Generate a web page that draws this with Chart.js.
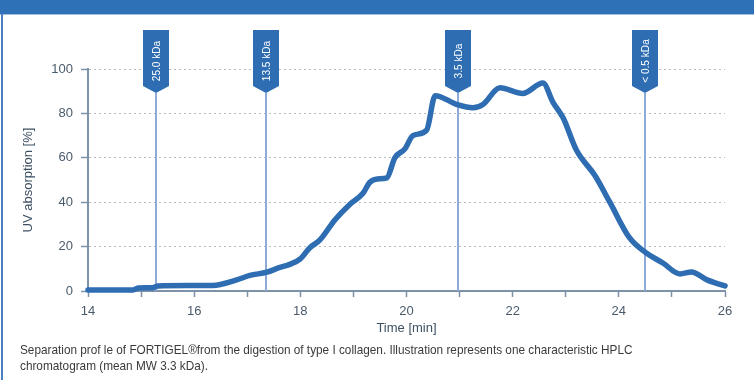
<!DOCTYPE html>
<html>
<head>
<meta charset="utf-8">
<script src="https://cdn.jsdelivr.net/npm/chart.js@4.4.0/dist/chart.umd.min.js"></script>
<style>
  html, body { margin:0; padding:0; background:#fff; }
  #wrap { position:relative; width:754px; height:380px; overflow:hidden; background:#fff; }
  #hdr { position:absolute; left:0; top:0; width:754px; height:14px; background:#2f71b6; border-bottom:1px solid #9fc0e4; }
  #lb { position:absolute; left:1px; top:14px; width:2px; height:366px; background:#4a80c2; }
  canvas { position:absolute; left:0; top:0; }
  #cap { position:absolute; left:20px; top:342px; font-family:"Liberation Sans",Arial,sans-serif; font-size:13.5px; line-height:16px; color:#3a3a3a; white-space:nowrap; transform:scaleX(0.873); transform-origin:0 0; }
</style>
</head>
<body>
<div id="wrap">
  <canvas id="c" width="754" height="380"></canvas>
  <div id="hdr"></div>
  <div id="lb"></div>
  <div id="cap">Separation prof le of FORTIGEL®from the digestion of type I collagen. Illustration represents one characteristic HPLC<br>chromatogram (mean MW 3.3 kDa).</div>
</div>
<script>
// ---- data ----
const times = [14, 14.85, 14.95, 15.22, 15.32, 16.35, 16.8, 17.05, 17.37, 17.6, 17.8, 18.0, 18.18, 18.37, 18.65, 18.93, 19.18, 19.31, 19.45, 19.63, 19.78, 19.97, 20.12, 20.38, 20.54, 20.95, 21.25, 21.44, 21.76, 22.19, 22.57, 22.76, 22.95, 23.2, 23.55, 23.83, 24.2, 24.49, 24.83, 25.15, 25.37, 25.66, 26];
const uvValues = [0.5, 0.5, 1.4, 1.5, 2.3, 2.5, 5, 7, 8.5, 10.5, 12, 14.5, 19.5, 23, 32, 39, 44, 49, 50.5, 51, 60, 64, 70, 72.5, 88, 84, 82.5, 84, 91.5, 89, 93.7, 85, 78, 63.5, 52, 40, 24, 17.6, 12.6, 7.7, 8.6, 5, 2.3];
const markerTimes = [15.28, 17.35, 20.97, 24.49];
const markerLabels = ["25.0 kDa", "13.5 kDa", "3.5 kDa", "< 0.5 kDa"];
const xTicks = [14, 16, 18, 20, 22, 24, 26];
const yTicks = [0, 20, 40, 60, 80, 100];

const axisColor = '#7d92a8';
const tickFontColor = '#4a5b6c';

const markerPlugin = {
  id: 'markers',
  beforeDatasetsDraw(chart) {
    const {ctx, scales:{x, y}} = chart;
    ctx.save();
    markerTimes.forEach((t, i) => {
      const px = Math.round(x.getPixelForValue(t));
      const topY = 30, rectBot = 86, tip = 93, hw = 13;
      ctx.strokeStyle = '#8eaad8';
      ctx.lineWidth = 2;
      ctx.beginPath();
      ctx.moveTo(px, tip);
      ctx.lineTo(px, y.getPixelForValue(0));
      ctx.stroke();
      ctx.fillStyle = '#2f6db3';
      ctx.beginPath();
      ctx.moveTo(px - hw, topY);
      ctx.lineTo(px + hw, topY);
      ctx.lineTo(px + hw, rectBot);
      ctx.lineTo(px, tip);
      ctx.lineTo(px - hw, rectBot);
      ctx.closePath();
      ctx.fill();
      ctx.save();
      ctx.translate(px + 1, (topY + rectBot) / 2 + 3);
      ctx.rotate(-Math.PI / 2);
      ctx.scale(0.88, 1);
      ctx.fillStyle = '#ffffff';
      ctx.font = '11.5px "Liberation Sans", Arial, sans-serif';
      ctx.textAlign = 'center';
      ctx.textBaseline = 'middle';
      ctx.fillText(markerLabels[i], 0, 0);
      ctx.restore();
    });
    ctx.restore();
  }
};

new Chart(document.getElementById('c'), {
  type: 'line',
  data: {
    datasets: [{
      data: times.map((t, i) => ({x: t, y: uvValues[i]})),
      borderColor: '#2f6db3',
      borderWidth: 5.5,
      pointRadius: 0,
      tension: 0.4,
      cubicInterpolationMode: 'monotone',
      fill: false,
      clip: false,
      borderCapStyle: 'round',
      borderJoinStyle: 'round'
    }]
  },
  options: {
    responsive: false,
    animation: false,
    events: [],
    layout: { padding: { left: 14, right: 29, top: 69, bottom: 44 } },
    plugins: { legend: { display: false }, tooltip: { enabled: false } },
    scales: {
      x: {
        type: 'linear',
        min: 14, max: 26,
        afterBuildTicks: (s) => { s.ticks = []; for (let v = 14; v <= 26; v++) s.ticks.push({value: v}); },
        afterFit: (s) => { s.height = 45; },
        ticks: {
          autoSkip: false,
          maxRotation: 0,
          padding: 7,
          color: tickFontColor,
          font: { family: 'Arial, "Liberation Sans", sans-serif', size: 13 },
          callback: (v) => xTicks.includes(v) ? String(v) : ''
        },
        grid: { drawOnChartArea: false, drawTicks: true, tickLength: 6, tickColor: axisColor, tickWidth: 1.5 },
        border: { display: true, color: axisColor, width: 2 },
        title: { display: true, text: 'Time [min]', color: '#3d5064', font: { family: 'Arial, "Liberation Sans", sans-serif', size: 13 }, padding: { top: 0, bottom: 0 } }
      },
      y: {
        min: 0, max: 100,
        afterBuildTicks: (s) => { s.ticks = yTicks.map(v => ({value: v})); },
        afterFit: (s) => { s.width = 74; },
        ticks: {
          padding: 8,
          color: tickFontColor,
          font: { family: 'Arial, "Liberation Sans", sans-serif', size: 13 }
        },
        grid: {
          drawTicks: true, tickLength: 7,
          color: (c) => c.tick && c.tick.value === 0 ? 'rgba(0,0,0,0)' : '#b8bcc0',
          lineWidth: 1,
          tickColor: axisColor, tickWidth: 1.5, tickBorderDash: [0, 0]
        },
        border: { display: true, color: axisColor, width: 2, dash: [2, 3] },
        title: { display: true, text: 'UV absorption [%]', color: '#3d5064', font: { family: 'Arial, "Liberation Sans", sans-serif', size: 13 }, padding: { top: 7, bottom: 0 } }
      }
    }
  },
  plugins: [markerPlugin]
});
</script>
</body>
</html>
